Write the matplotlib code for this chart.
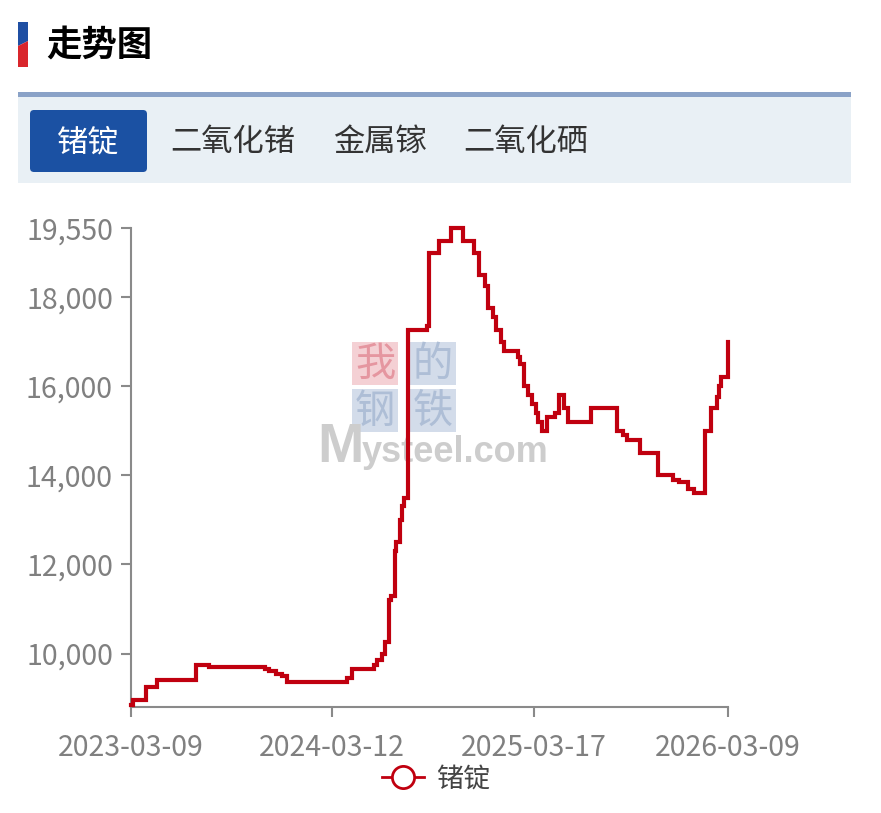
import matplotlib
matplotlib.use("Agg")
import matplotlib.pyplot as plt
import pandas as pd
from matplotlib.patches import Rectangle, FancyBboxPatch, Polygon
from matplotlib.lines import Line2D
from matplotlib.ticker import FuncFormatter, FixedLocator

plt.rcParams['font.family'] = ['Noto Sans CJK SC', 'DejaVu Sans']

# 锗锭 price: each value holds from its date until the next change
change_dates = [
    "2023-03-09", "2023-03-13", "2023-04-06", "2023-04-26", "2023-07-07", "2023-07-31",
    "2023-11-10", "2023-11-17", "2023-12-01", "2023-12-12", "2023-12-21",
    "2024-04-09", "2024-04-18", "2024-05-29", "2024-06-03", "2024-06-11", "2024-06-17",
    "2024-06-25", "2024-06-28", "2024-07-05", "2024-07-08", "2024-07-15", "2024-07-18",
    "2024-07-22", "2024-07-30", "2024-09-02", "2024-09-06", "2024-09-24", "2024-10-17",
    "2024-11-08", "2024-11-27", "2024-12-06", "2024-12-17", "2024-12-24", "2025-01-02",
    "2025-01-08", "2025-01-17", "2025-01-21", "2025-02-17", "2025-02-21", "2025-02-28",
    "2025-03-07", "2025-03-14", "2025-03-21", "2025-03-26", "2025-04-01", "2025-04-11",
    "2025-04-25", "2025-05-02", "2025-05-12", "2025-05-19", "2025-06-30", "2025-08-18",
    "2025-08-28", "2025-09-05", "2025-09-29", "2025-10-31", "2025-11-28", "2025-12-09",
    "2025-12-26", "2026-01-05", "2026-01-26", "2026-02-05", "2026-02-16", "2026-02-20",
    "2026-02-25", "2026-03-09",
]
prices = [
    8850, 8950, 9250, 9400, 9750, 9700,
    9650, 9600, 9550, 9500, 9350,
    9450, 9650, 9750, 9850, 10000, 10250,
    11200, 11300, 12300, 12500, 13000, 13300,
    13500, 17250, 17350, 19000, 19250, 19550,
    19250, 19000, 18500, 18250, 17750, 17550,
    17250, 17000, 16800, 16650, 16500, 16000,
    15800, 15600, 15400, 15200, 15000, 15300,
    15400, 15800, 15500, 15200, 15500, 15000,
    14900, 14800, 14500, 14000, 13900, 13850,
    13700, 13600, 15000, 15500, 15750, 16000,
    16200, 17000,
]

series_name = "锗锭"
tab_labels = ["锗锭", "二氧化锗", "金属镓", "二氧化硒"]
page_title = "走势图"
y_ticks = [10000, 12000, 14000, 16000, 18000, 19550]
y_range = (8800, 19550)
x_tick_dates = ["2023-03-09", "2024-03-12", "2025-03-17", "2026-03-09"]

LINE_RED = "#c0000f"
AXIS_GRAY = "#8a8a8a"
LABEL_GRAY = "#808080"
W, H = 881, 813

fig = plt.figure(figsize=(W / 100, H / 100), dpi=100)
fig.patch.set_facecolor("white")

# page decoration drawn in pixel units on a full-figure backdrop
bg = fig.add_axes([0, 0, 1, 1], zorder=0)
bg.set_xlim(0, W)
bg.set_ylim(H, 0)
bg.axis("off")

# title marker and heading
bg.add_patch(Polygon([(18, 22), (28, 22), (28, 41), (18, 46)], closed=True,
                     facecolor="#1f4fa3", edgecolor="none"))
bg.add_patch(Polygon([(18, 46), (28, 41), (28, 67), (18, 67)], closed=True,
                     facecolor="#d9262c", edgecolor="none"))
bg.text(46, 45, page_title, fontsize=25.5, fontweight="heavy", color="#000000",
        ha="left", va="center")

# tab strip
bg.add_patch(Rectangle((18, 92), 833, 5, facecolor="#8aa2c7", edgecolor="none"))
bg.add_patch(Rectangle((18, 97), 833, 86, facecolor="#e9f0f5", edgecolor="none"))
bg.add_patch(FancyBboxPatch((34, 114), 109, 54, boxstyle="round,pad=4,rounding_size=4",
                            facecolor="#1b51a3", edgecolor="none"))
tab_centers = [88.5, 233, 379.5, 526]
for i, (lbl, cx) in enumerate(zip(tab_labels, tab_centers)):
    bg.text(cx, 142, lbl, fontsize=22.5, color="white" if i == 0 else "#333333",
            ha="center", va="center")

# watermark logo behind the plot
logo_cells = [("我", 352, 342, "#f4d0d4", "#e596a0"),
              ("的", 410, 342, "#d3dcea", "#aebed6"),
              ("钢", 352, 389, "#d3dcea", "#aebed6"),
              ("铁", 410, 389, "#d3dcea", "#aebed6")]
for ch, x0, y0, face, ink in logo_cells:
    bg.add_patch(Rectangle((x0, y0), 46, 43, facecolor=face, edgecolor="none"))
    bg.text(x0 + 23, y0 + 22, ch, fontsize=29, color=ink, ha="center", va="center")
bg.text(317, 462, "M", fontsize=40, fontweight="bold", color="#cdcdcd",
        family="Liberation Sans", ha="left", va="baseline")
bg.text(362, 462, "ysteel.com", fontsize=26, fontweight="bold", color="#cdcdcd",
        family="Liberation Sans", ha="left", va="baseline")

# chart area
left, right, top, bottom = 131, 728, 228, 707
ax = fig.add_axes([left / W, (H - bottom) / H, (right - left) / W, (bottom - top) / H],
                  zorder=1)
ax.patch.set_alpha(0)

dates = pd.to_datetime(change_dates)
ax.plot(dates, prices, drawstyle="steps-post", color=LINE_RED, lw=3.0,
        solid_joinstyle="miter", zorder=3, clip_on=False)

ax.set_xlim(pd.Timestamp(x_tick_dates[0]), pd.Timestamp(x_tick_dates[-1]))
ax.set_ylim(*y_range)

ax.xaxis.set_major_locator(FixedLocator(matplotlib.dates.date2num(pd.to_datetime(x_tick_dates))))
ax.xaxis.set_major_formatter(matplotlib.dates.DateFormatter("%Y-%m-%d"))
ax.yaxis.set_major_locator(FixedLocator(y_ticks))
ax.yaxis.set_major_formatter(FuncFormatter(lambda v, _: f"{v:,.0f}"))

for side in ("top", "right"):
    ax.spines[side].set_visible(False)
for side in ("left", "bottom"):
    ax.spines[side].set_color(AXIS_GRAY)
    ax.spines[side].set_linewidth(1.5)

ax.tick_params(axis="both", direction="out", length=7, width=1.5, color=AXIS_GRAY,
               labelcolor=LABEL_GRAY, labelsize=20.5)
ax.tick_params(axis="x", pad=12)
ax.tick_params(axis="y", pad=6)

handle = Line2D([], [], color=LINE_RED, lw=2, marker="o", markersize=16,
                markerfacecolor="white", markeredgecolor=LINE_RED, markeredgewidth=2)
fig.legend(handles=[handle], labels=[series_name], loc="center",
           bbox_to_anchor=(436 / W, 1 - 779 / H), frameon=False, fontsize=19.5,
           handlelength=1.55, handletextpad=0.45, labelcolor="#444444")

fig.savefig("out.png", dpi=100, facecolor="white")
